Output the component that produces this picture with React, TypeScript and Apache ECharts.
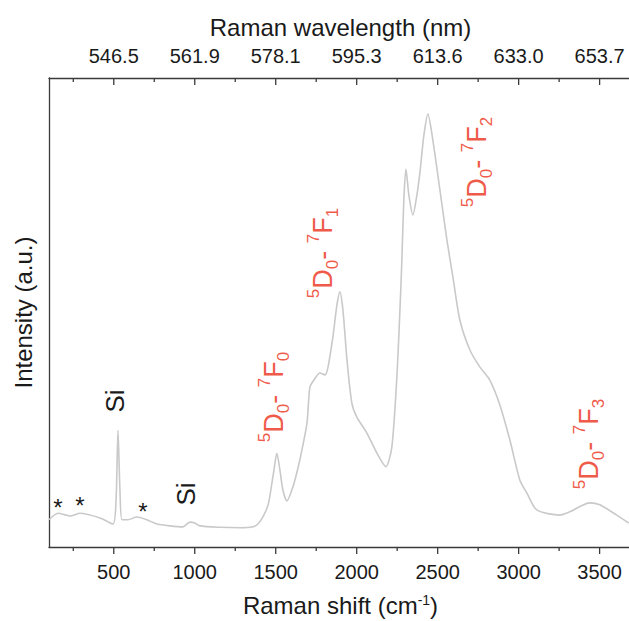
import { useEffect, useRef } from 'react';
import * as echarts from 'echarts';

const ramanShift = [100, 156, 230, 291, 415, 495, 514, 526, 538, 551, 588, 643, 705, 767, 847, 927, 970, 1001, 1032, 1156, 1279, 1359, 1390, 1421, 1453, 1470, 1489, 1507, 1526, 1544, 1569, 1606, 1637, 1662, 1693, 1711, 1736, 1773, 1804, 1822, 1853, 1878, 1896, 1915, 1940, 1970, 2001, 2063, 2125, 2180, 2217, 2248, 2267, 2279, 2291, 2304, 2322, 2347, 2372, 2390, 2415, 2440, 2470, 2514, 2557, 2594, 2637, 2699, 2760, 2822, 2884, 2946, 3007, 3051, 3112, 3254, 3316, 3439, 3501, 3606, 3680];
const intensity = [5.8, 7.2, 6.6, 7.2, 6.2, 4.9, 10.0, 24.9, 12.2, 5.8, 5.8, 6.4, 5.8, 4.9, 4.5, 4.3, 5.3, 5.1, 4.5, 4.2, 4.1, 4.3, 4.9, 6.4, 9.0, 12.2, 16.4, 20.0, 16.4, 12.2, 9.8, 12.8, 16.8, 20.7, 26.4, 34.1, 35.6, 37.1, 36.7, 38.2, 44.8, 51.6, 54.4, 50.5, 39.9, 30.7, 27.7, 24.3, 20.0, 17.1, 21.3, 36.2, 50.5, 61.2, 74.0, 80.6, 75.1, 70.8, 75.1, 79.7, 87.8, 92.3, 86.8, 76.1, 65.5, 57.6, 48.4, 42.0, 38.4, 35.6, 30.3, 22.8, 14.3, 11.5, 7.9, 6.8, 7.5, 9.4, 9.0, 6.8, 5.1];

const majorTicks = [500, 1000, 1500, 2000, 2500, 3000, 3500];
const minorTicks = [250, 750, 1250, 1750, 2250, 2750, 3250];
const wavelengthLabels = ['546.5', '561.9', '578.1', '595.3', '613.6', '633.0', '653.7'];

export default function App() {
  const ref = useRef<HTMLDivElement>(null);
  useEffect(() => {
    const chart = echarts.init(ref.current!, null, { renderer: 'svg' });
    const ff = 'Liberation Sans, Arial, sans-serif';
    const txt = '#1a1a1a';
    const axisColor = '#3a3a3a';
    const red = '#EF5B4A';
    const lineStyle = { color: axisColor, width: 1.3 };
    const common = { type: 'value', min: 100, max: 3700, splitLine: { show: false }, axisTick: { show: false } };
    const redRich = {
      m: { font: `27px ${ff}`, lineHeight: 36 },
      p: { font: `17px ${ff}`, verticalAlign: 'top', lineHeight: 36 },
      b: { font: `17px ${ff}`, verticalAlign: 'bottom', lineHeight: 36 },
    };
    const redLabel = (x: number, y: number, n: string) => ({
      type: 'text', x, y, rotation: Math.PI / 2,
      style: {
        text: `{p|5}{m|D}{b|0}{m|- }{p|7}{m|F}{b|${n}}`,
        rich: redRich, fill: red, align: 'center', verticalAlign: 'middle',
      },
    });
    const plain = (x: number, y: number, s: string, size: number, rot: boolean) => ({
      type: 'text', x, y, rotation: rot ? Math.PI / 2 : 0,
      style: { text: s, font: `${size}px ${ff}`, fill: txt, align: 'center', verticalAlign: 'middle' },
    });
    const tickData = [...majorTicks.map((v) => [v, 0, 1]), ...minorTicks.map((v) => [v, 0, 0])];
    chart.setOption({
      animation: false,
      grid: { left: 49, top: 78, width: 583, height: 469, outerBoundsMode: 'none', containLabel: false },
      xAxis: [
        {
          ...common, position: 'bottom',
          name: '{t|Raman shift (cm}{s|-1}{t|)}', nameLocation: 'middle', nameGap: 46,
          nameTextStyle: {
            rich: {
              t: { fontSize: 24, fontFamily: ff, color: txt, lineHeight: 25 },
              s: { fontSize: 14, fontFamily: ff, color: txt, verticalAlign: 'top', lineHeight: 25 },
            },
          },
          axisLine: { show: true, onZero: false, lineStyle },
          axisLabel: {
            customValues: majorTicks, margin: 15, fontSize: 20, fontFamily: ff, color: txt,
            formatter: (v: number) => String(v),
          },
        },
        {
          ...common, position: 'top',
          name: 'Raman wavelength (nm)', nameLocation: 'middle', nameGap: 39,
          nameTextStyle: { fontSize: 24, fontFamily: ff, color: txt },
          axisLine: { show: true, onZero: false, lineStyle },
          axisLabel: {
            customValues: majorTicks, margin: 12, fontSize: 20, fontFamily: ff, color: txt,
            formatter: (v: number) => wavelengthLabels[majorTicks.indexOf(v)] ?? '',
          },
        },
      ],
      yAxis: {
        type: 'value', min: 0, max: 100,
        axisLine: { show: true, onZero: false, lineStyle },
        axisTick: { show: false }, axisLabel: { show: false }, splitLine: { show: false },
        name: 'Intensity (a.u.)', nameLocation: 'middle', nameGap: 14, nameRotate: 90,
        nameTextStyle: { fontSize: 24, fontFamily: ff, color: txt },
      },
      series: [
        {
          type: 'line', xAxisIndex: 0, yAxisIndex: 0,
          data: ramanShift.map((x, i) => [x, intensity[i]]),
          showSymbol: false, smooth: 0.25,
          lineStyle: { color: '#c9c9c9', width: 1.6 },
        },
        {
          type: 'custom', xAxisIndex: 0, yAxisIndex: 0, clip: false, silent: true,
          data: tickData,
          encode: { x: 0, y: 1 },
          renderItem: (_p: any, api: any) => {
            const v = api.value(0);
            const major = api.value(2) === 1;
            const len = major ? 7 : 4;
            const b = api.coord([v, 0]);
            const t = api.coord([v, 100]);
            const st = { stroke: axisColor, lineWidth: 1.3 };
            return {
              type: 'group',
              children: [
                { type: 'line', shape: { x1: b[0], y1: b[1], x2: b[0], y2: b[1] + len }, style: st },
                { type: 'line', shape: { x1: t[0], y1: t[1], x2: t[0], y2: t[1] + len }, style: st },
              ],
            };
          },
        },
      ],
      graphic: [
        plain(58, 507, '*', 24, false),
        plain(80, 505, '*', 24, false),
        plain(143, 511, '*', 24, false),
        plain(115, 401, 'Si', 26, true),
        plain(186, 494, 'Si', 26, true),
        redLabel(274, 397, '0'),
        redLabel(323, 253, '1'),
        redLabel(477, 162, '2'),
        redLabel(589, 444, '3'),
      ],
    });
    return () => chart.dispose();
  }, []);
  return <div ref={ref} style={{ position: 'absolute', left: 0, top: 0, width: 629, height: 621 }} />;
}
